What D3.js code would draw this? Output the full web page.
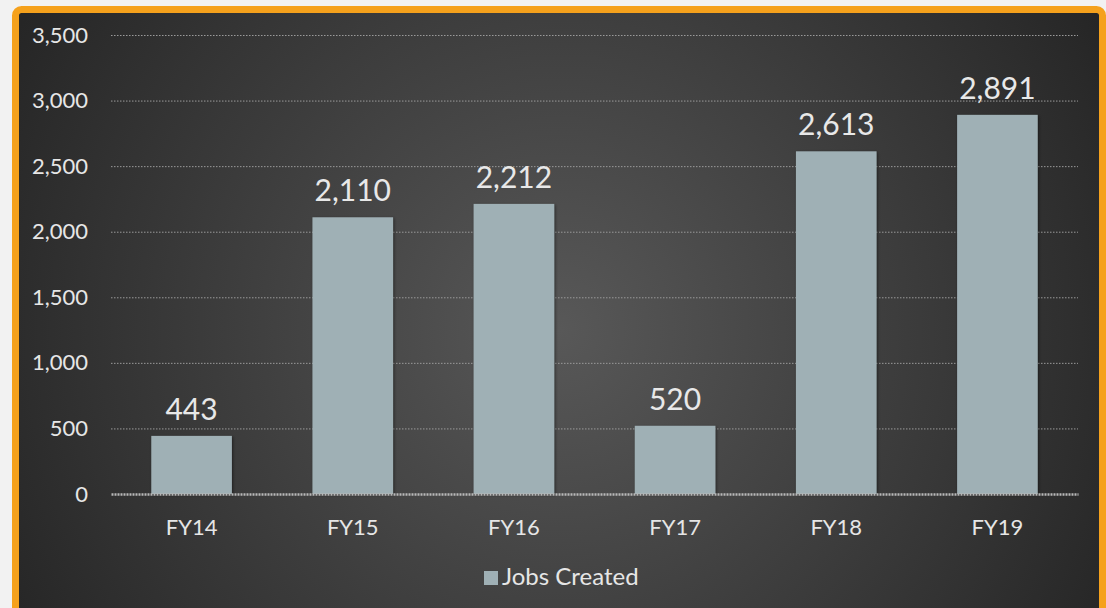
<!DOCTYPE html>
<html><head><meta charset="utf-8">
<script src="https://cdn.jsdelivr.net/npm/d3@7"></script>
<style>
html,body{margin:0;padding:0;background:#f2f2f2;overflow:hidden;}
svg{display:block;}
</style></head>
<body>
<svg id="chart" width="1106" height="608"></svg>
<script>
const categories = ["FY14","FY15","FY16","FY17","FY18","FY19"];
const jobsCreated = [443, 2110, 2212, 520, 2613, 2891];
const yTicks = [0,500,1000,1500,2000,2500,3000,3500];
const seriesName = "Jobs Created";

const svg = d3.select("#chart");
const font = "'Lato','Open Sans',sans-serif";

const defs = svg.append("defs");
const grad = defs.append("radialGradient").attr("id","bg")
  .attr("gradientUnits","userSpaceOnUse").attr("cx",560).attr("cy",330).attr("r",620);
grad.append("stop").attr("offset","0%").attr("stop-color","#585858");
grad.append("stop").attr("offset","100%").attr("stop-color","#262626");
const sh = defs.append("filter").attr("id","shadow").attr("x","-20%").attr("y","-20%").attr("width","140%").attr("height","140%");
sh.append("feDropShadow").attr("dx",1).attr("dy",1).attr("stdDeviation",1.5).attr("flood-color","#000").attr("flood-opacity",0.5);

svg.append("rect").attr("x",15.5).attr("y",9.5).attr("width",1087).attr("height",620)
  .attr("rx",6).attr("fill","url(#bg)").attr("stroke","#f5a11c").attr("stroke-width",7);

const m = {left:111, right:1078, top:35, bottom:494};
const x = d3.scaleBand().domain(categories).range([m.left, m.right]).paddingInner(0.5).paddingOuter(0.25);
const y = d3.scaleLinear().domain([0,3500]).range([m.bottom, m.top]);

// gridlines
const gy = svg.append("g").attr("transform",`translate(${m.left},0)`)
  .call(d3.axisLeft(y).tickValues(yTicks).tickSize(-(m.right-m.left)).tickFormat(""));
gy.select(".domain").remove();
gy.selectAll("line").attr("stroke","#9a9a9a").attr("stroke-dasharray","1.5,1.5").attr("stroke-width",1);
gy.selectAll(".tick").filter(d=>d===0).remove();

// y labels
const yl = svg.append("g").attr("transform",`translate(88,0)`)
  .call(d3.axisLeft(y).tickValues(yTicks).tickSize(0).tickPadding(0).tickFormat(d3.format(",")));
yl.select(".domain").remove();
yl.selectAll("text").attr("fill","#e6e6e6").attr("font-size",22).attr("font-family",font);

// bars
svg.append("g").selectAll("rect").data(categories).join("rect")
  .attr("x",d=>x(d)).attr("width",x.bandwidth())
  .attr("y",(d,i)=>y(jobsCreated[i])).attr("height",(d,i)=>y(0)-y(jobsCreated[i]))
  .attr("fill","#9fb0b5").attr("filter","url(#shadow)");

// x axis
const xa = svg.append("g").attr("transform",`translate(0,${m.bottom})`)
  .call(d3.axisBottom(x).tickSize(0).tickPadding(0));
xa.select(".domain").attr("stroke","#b8b8b8").attr("stroke-width",2.5).attr("stroke-dasharray","2,1");
xa.selectAll("text").attr("dy",null).attr("y",41).attr("fill","#e6e6e6").attr("font-size",22).attr("font-family",font);

// value labels
svg.append("g").selectAll("text").data(categories).join("text")
  .attr("x",d=>x(d)+x.bandwidth()/2).attr("y",(d,i)=>y(jobsCreated[i])-16)
  .attr("text-anchor","middle").attr("fill","#e8e8e8").attr("font-size",30).attr("font-family",font)
  .text((d,i)=>d3.format(",")(jobsCreated[i]));

// legend
const lg = svg.append("g").attr("transform","translate(484,571)");
lg.append("rect").attr("x",0).attr("y",0).attr("width",14).attr("height",14).attr("fill","#9fb0b5");
lg.append("text").attr("x",18).attr("y",14).attr("fill","#e6e6e6").attr("font-size",24).attr("font-family",font).text(seriesName);
</script>
</body></html>
